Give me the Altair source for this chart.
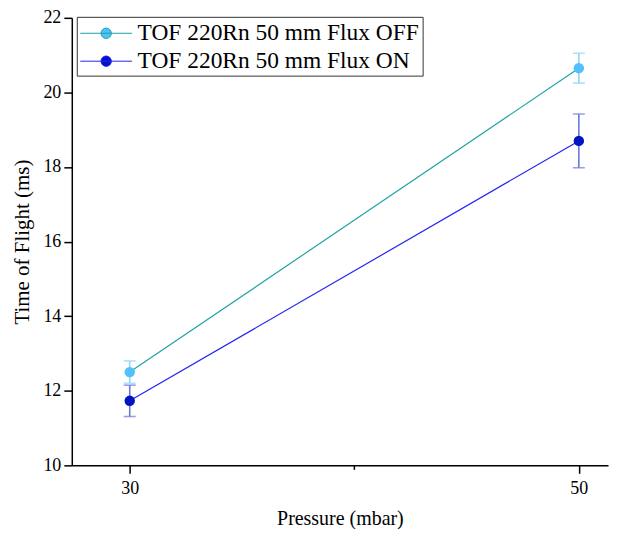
import altair as alt
import pandas as pd

pressure = [30, 50]
series_names = ["TOF 220Rn 50 mm Flux OFF", "TOF 220Rn 50 mm Flux ON"]
tof_off = [12.50, 20.65]
err_off = [0.30, 0.40]
tof_on = [11.73, 18.70]
err_on = [0.42, 0.72]

line_colors = ["#1FA3A3", "#2323F5"]
marker_colors = ["#52C0FA", "#0014C2"]
errbar_colors = ["#8FD6FA", "#6A78DC"]

rows = []
for s, vals, errs in [(series_names[0], tof_off, err_off), (series_names[1], tof_on, err_on)]:
    for p, v, e in zip(pressure, vals, errs):
        rows.append({"pressure": p, "tof": v, "low": v - e, "high": v + e, "series": s})
df = pd.DataFrame(rows)

FONT = "Liberation Serif, Times New Roman, serif"

xscale = alt.Scale(domain=[27.42, 51.3], nice=False, zero=False)
yscale = alt.Scale(domain=[10, 22], nice=False, zero=False)

xaxis = alt.Axis(
    values=[30, 40, 50],
    labelExpr="datum.value == 40 ? '' : datum.label",
    tickSize={"condition": {"test": "datum.value == 40", "value": 4}, "value": 8},
    grid=False, domainColor="black", tickColor="black", domainWidth=1.5, tickWidth=1.5,
    labelFont=FONT, labelFontSize=18, labelColor="black", labelPadding=6,
    title="Pressure (mbar)", titleFont=FONT, titleFontSize=20, titleFontWeight="normal",
    titleColor="black", titlePadding=11,
)
yaxis = alt.Axis(
    values=list(range(10, 23)),
    labelExpr="datum.value % 2 == 0 ? datum.label : ''",
    tickSize={"condition": {"test": "datum.value % 2 == 1", "value": 4}, "value": 8},
    grid=False, domainColor="black", tickColor="black", domainWidth=1.5, tickWidth=1.5,
    labelFont=FONT, labelFontSize=18, labelColor="black", labelPadding=3,
    title="Time of Flight (ms)", titleFont=FONT, titleFontSize=21, titleFontWeight="normal",
    titleColor="black", titlePadding=10,
)

base = alt.Chart(df)
X = alt.X("pressure:Q", scale=xscale, axis=xaxis)

legend_path = "M-1,0L3,0M0.6,0A0.4,0.4 0 1,0 1.4,0A0.4,0.4 0 1,0 0.6,0Z"

lines = base.mark_line(strokeWidth=1.2).encode(
    x=X,
    y=alt.Y("tof:Q", scale=yscale, axis=yaxis),
    stroke=alt.Stroke("series:N", scale=alt.Scale(domain=series_names, range=line_colors),
                      legend=alt.Legend(title=None)),
)

layers = [lines]
for i, s in enumerate(series_names):
    sub = base.transform_filter(alt.datum.series == s)
    layers.append(sub.mark_rule(color=errbar_colors[i], strokeWidth=1.6).encode(
        x="pressure:Q", y="low:Q", y2="high:Q"))
    layers.append(sub.mark_tick(color=errbar_colors[i], orient="horizontal", size=12, thickness=1.6).encode(
        x="pressure:Q", y="low:Q"))
    layers.append(sub.mark_tick(color=errbar_colors[i], orient="horizontal", size=12, thickness=1.6).encode(
        x="pressure:Q", y="high:Q"))

points = base.mark_point(filled=True, size=110, opacity=1, strokeWidth=0).encode(
    x="pressure:Q",
    y="tof:Q",
    fill=alt.Fill("series:N", scale=alt.Scale(domain=series_names, range=marker_colors),
                  legend=alt.Legend(title=None)),
)
layers.append(points)

chart = alt.layer(*layers).properties(
    width=538, height=449,
    autosize=alt.AutoSizeParams(type="none"),
    padding={"left": 64, "top": 9, "right": 7, "bottom": 63},
).configure_view(stroke=None).configure_legend(
    orient="none", legendX=5, legendY=-1,
    symbolType=legend_path, symbolSize=676, symbolStrokeWidth=1.0,
    labelFont=FONT, labelFontSize=23.5, labelColor="black", labelLimit=0,
    strokeColor="#333333", padding=3, rowPadding=3, symbolOffset=0,
    labelOffset=31, fillColor="white",
)

chart.save("out.html", embed_options={"renderer": "svg", "actions": False})
